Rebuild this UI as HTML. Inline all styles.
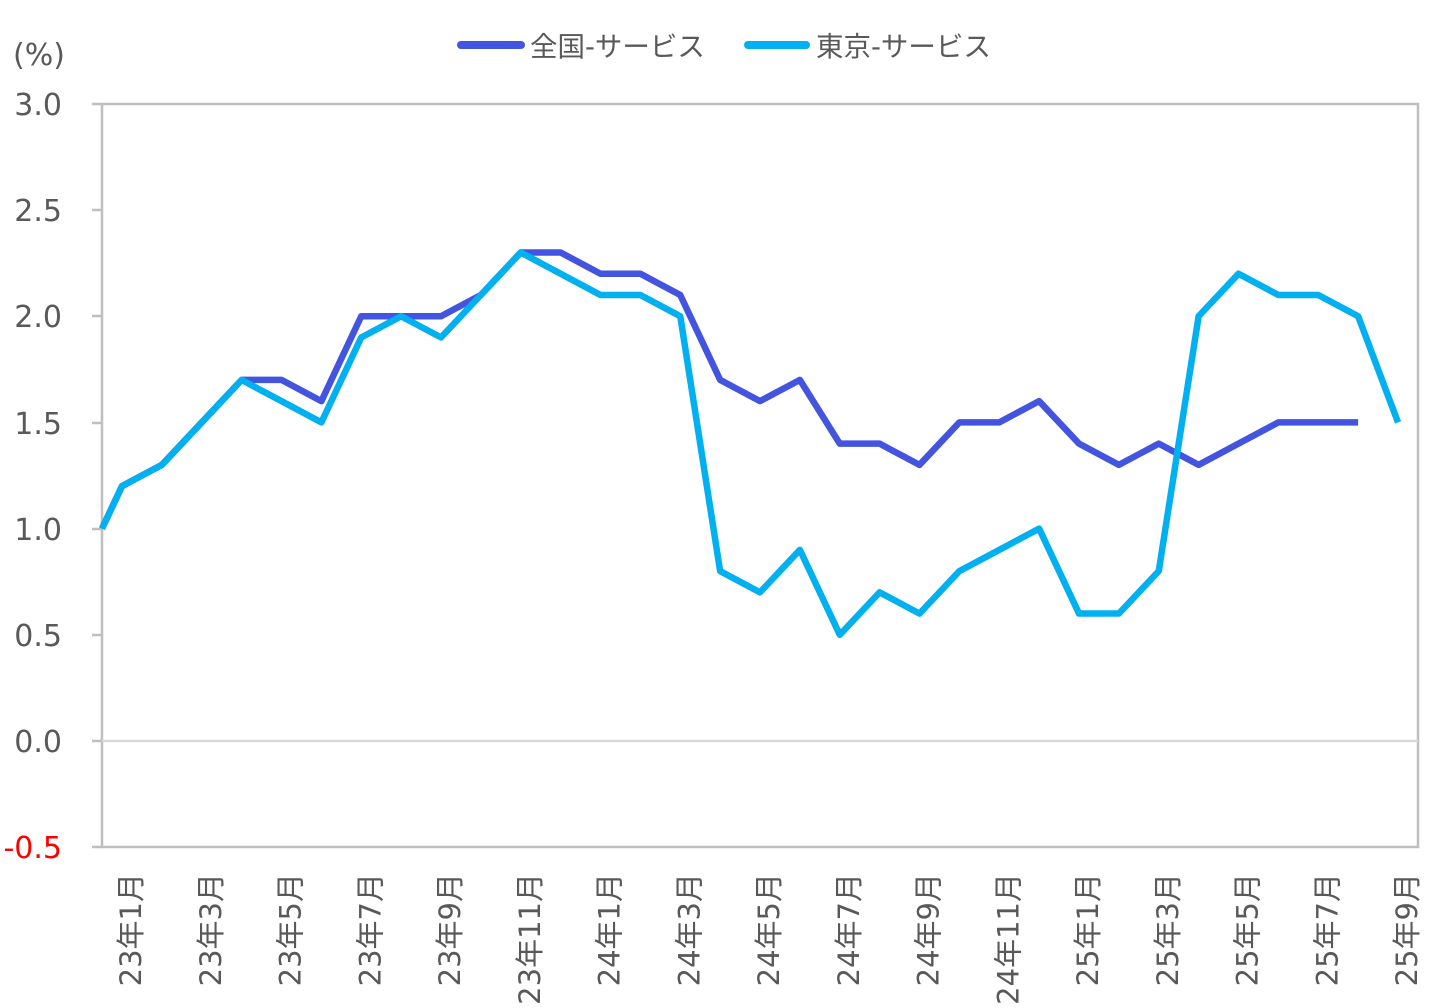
<!DOCTYPE html>
<html><head><meta charset="utf-8"><style>
html,body{margin:0;padding:0;background:#fff;}
svg{display:block;font-family:"DejaVu Sans","Noto Sans CJK JP",sans-serif;}
</style></head><body>
<svg width="1429" height="1008" viewBox="0 0 1429 1008" xmlns="http://www.w3.org/2000/svg">
<text x="13" y="65" font-size="30" fill="#595959">(%)</text>
<!-- legend -->
<line x1="461" y1="45" x2="521" y2="45" stroke="#4355E0" stroke-width="8" stroke-linecap="round"/>
<text x="530" y="56" font-size="27.5" fill="#595959">全国-サービス</text>
<line x1="748" y1="45" x2="806" y2="45" stroke="#00B0F0" stroke-width="8" stroke-linecap="round"/>
<text x="816" y="56" font-size="27.5" fill="#595959">東京-サービス</text>
<!-- frame -->
<rect x="102" y="104" width="1316" height="743" fill="none" stroke="#BFBFBF" stroke-width="2.5"/>
<line x1="102" y1="741" x2="1418" y2="741" stroke="#D9D9D9" stroke-width="2.5"/>
<g stroke="#BFBFBF" stroke-width="2.5">
<line x1="92" y1="104" x2="102" y2="104"/><line x1="92" y1="210" x2="102" y2="210"/><line x1="92" y1="316" x2="102" y2="316"/><line x1="92" y1="423" x2="102" y2="423"/><line x1="92" y1="529" x2="102" y2="529"/><line x1="92" y1="635" x2="102" y2="635"/><line x1="92" y1="741" x2="102" y2="741"/><line x1="92" y1="847" x2="102" y2="847"/>
</g>
<g fill="#595959" font-size="30" text-anchor="end">
<text x="62" y="115">3.0</text><text x="62" y="221">2.5</text><text x="62" y="327">2.0</text><text x="62" y="434">1.5</text><text x="62" y="540">1.0</text><text x="62" y="646">0.5</text><text x="62" y="752">0.0</text>
<text x="62" y="858" fill="#FF0000">-0.5</text>
</g>
<g fill="#595959" font-size="29" text-anchor="end" id="xl"></g>
<polyline id="nat" fill="none" stroke="#4355E0" stroke-width="6.5" stroke-linejoin="round"/>
<polyline id="tok" fill="none" stroke="#00B0F0" stroke-width="6.5" stroke-linejoin="round"/>
<script>
var X=function(i){return 122+i*39.875;},Y=function(v){return 741-v*212.4;};
var nat=[1.2,1.3,1.5,1.7,1.7,1.6,2.0,2.0,2.0,2.1,2.3,2.3,2.2,2.2,2.1,1.7,1.6,1.7,1.4,1.4,1.3,1.5,1.5,1.6,1.4,1.3,1.4,1.3,1.4,1.5,1.5,1.5];
var tok=[1.2,1.3,1.5,1.7,1.6,1.5,1.9,2.0,1.9,2.1,2.3,2.2,2.1,2.1,2.0,0.8,0.7,0.9,0.5,0.7,0.6,0.8,0.9,1.0,0.6,0.6,0.8,2.0,2.2,2.1,2.1,2.0,1.5];
function pts(a){var s="102,"+Y(1.0);a.forEach(function(v,i){s+=" "+X(i)+","+Y(v);});return s;}
document.getElementById("nat").setAttribute("points",pts(nat));
document.getElementById("tok").setAttribute("points",pts(tok));
var g=document.getElementById("xl"),ns="http://www.w3.org/2000/svg";
for(var i=0;i<33;i+=2){var y=23+Math.floor(i/12),m=i%12+1;var x=X(i)+19;
var t=document.createElementNS(ns,"text");t.setAttribute("x",x);t.setAttribute("y",873);
t.setAttribute("transform","rotate(-90 "+x+" 873)");t.textContent=y+"年"+m+"月";g.appendChild(t);}
</script>
</svg>
</body></html>
